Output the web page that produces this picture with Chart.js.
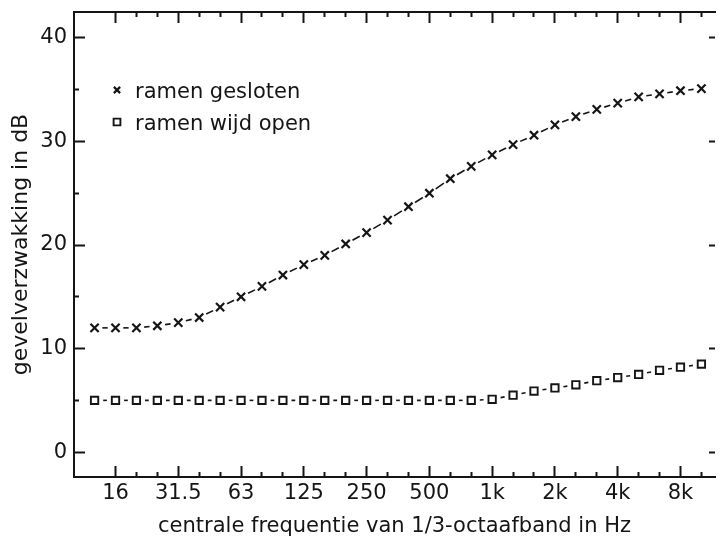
<!DOCTYPE html>
<html>
<head>
<meta charset="utf-8">
<script src="https://cdn.jsdelivr.net/npm/chart.js@4/dist/chart.umd.min.js"></script>
<style>
  html, body { margin: 0; padding: 0; background: #fff; overflow: hidden; }
</style>
</head>
<body>
<canvas id="chart" width="723" height="541"></canvas>
<script>
// 1/3-octave band centre frequencies (x positions are the band index)
const bands = ['12.5', '16', '20', '25', '31.5', '40', '50', '63', '80', '100',
  '125', '160', '200', '250', '315', '400', '500', '630', '800', '1k',
  '1.25k', '1.6k', '2k', '2.5k', '3.15k', '4k', '5k', '6.3k', '8k', '10k'];
const tickLabels = ['16', '31.5', '63', '125', '250', '500', '1k', '2k', '4k', '8k'];
const seriesNames = ['ramen gesloten', 'ramen wijd open'];

// gevelverzwakking in dB
const closedWindows = [12.0, 12.0, 12.0, 12.2, 12.5, 13.0, 14.0, 15.0, 16.0, 17.1,
  18.1, 19.0, 20.1, 21.2, 22.4, 23.7, 25.0, 26.4, 27.6, 28.7,
  29.7, 30.6, 31.6, 32.4, 33.1, 33.7, 34.3, 34.6, 34.9, 35.1];
const openWindows = [5.0, 5.0, 5.0, 5.0, 5.0, 5.0, 5.0, 5.0, 5.0, 5.0,
  5.0, 5.0, 5.0, 5.0, 5.0, 5.0, 5.0, 5.0, 5.0, 5.1,
  5.5, 5.9, 6.2, 6.5, 6.9, 7.2, 7.5, 7.9, 8.2, 8.5];

const ink = '#151515';
Chart.defaults.font.family = 'DejaVu Sans';
Chart.defaults.font.size = 21;
Chart.defaults.color = ink;

const toPoints = values => values.map((v, i) => ({ x: i, y: v }));

// one short dash in the middle of every segment, leaving room for the markers
const midDash = gap => ctx => {
  const len = Math.hypot(ctx.p1.x - ctx.p0.x, ctx.p1.y - ctx.p0.y);
  const d = Math.max(len - 2 * gap, 0.5);
  return [0, gap, d, len - gap - d];
};

// tick marks point inward; minor ones are shortened with a dash
const innerTick = (isMajor, fromBorder) => ctx =>
  isMajor(ctx.tick.value) ? [] : (fromBorder ? [6, 20] : [0, 6, 6, 20]);
const majorX = v => tickLabels.includes(bands[v]);
const majorY = v => v % 10 === 0;

// fixed axis sizes, no extra label padding around the plot
const fixSize = (prop, size) => s => {
  s[prop] = size;
  s.paddingTop = s.paddingBottom = s.paddingLeft = s.paddingRight = 0;
};

const insideLegend = {
  id: 'insideLegend',
  afterDatasetsDraw(chart) {
    const { ctx, chartArea } = chart;
    ctx.save();
    chart.data.datasets.forEach((ds, k) => {
      const x = chartArea.left + 43;
      const y = chartArea.top + 78 + k * 32;
      ctx.strokeStyle = ink;
      ctx.fillStyle = '#fff';
      ctx.lineWidth = ds.pointBorderWidth;
      Chart.helpers.drawPoint(ctx, {
        pointStyle: ds.pointStyle,
        radius: ds.pointStyle === 'rect' ? 4.8 : 4.4,
        borderWidth: ds.pointBorderWidth
      }, x, y);
      ctx.fillStyle = ink;
      ctx.font = '21px "DejaVu Sans"';
      ctx.textBaseline = 'alphabetic';
      ctx.fillText(ds.label, chartArea.left + 61, y + 8);
    });
    ctx.restore();
  }
};

new Chart(document.getElementById('chart'), {
  type: 'line',
  data: {
    datasets: [{
      label: seriesNames[0],
      data: toPoints(closedWindows),
      borderColor: ink,
      borderWidth: 1.6,
      pointStyle: 'crossRot',
      pointRadius: 5.8,
      pointBorderWidth: 2.2,
      pointBorderColor: ink,
      segment: { borderDash: midDash(7.8) }
    }, {
      label: seriesNames[1],
      data: toPoints(openWindows),
      borderColor: ink,
      borderWidth: 1.6,
      pointStyle: 'rect',
      pointRadius: 5.2,
      pointBorderWidth: 1.9,
      pointBorderColor: ink,
      pointBackgroundColor: '#fff',
      segment: { borderDash: midDash(8.6) }
    }]
  },
  options: {
    responsive: false,
    animation: false,
    layout: { padding: 0 },
    plugins: {
      legend: { display: false },
      tooltip: { enabled: false }
    },
    scales: {
      x: {
        type: 'linear',
        position: 'bottom',
        min: -0.983,
        max: 29.65,
        afterBuildTicks: s => { s.ticks = s.ticks.filter(t => t.value >= 1); },
        afterFit: fixSize('height', 64),
        border: { color: ink, width: 2 },
        grid: {
          drawOnChartArea: false,
          tickLength: -11,
          tickWidth: 2,
          tickColor: ink,
          tickBorderDash: innerTick(majorX, true)
        },
        ticks: {
          stepSize: 1,
          autoSkip: false,
          maxRotation: 0,
          includeBounds: false,
          padding: 15,
          callback: v => (majorX(v) ? bands[v] : '')
        },
        title: {
          display: true,
          text: 'centrale frequentie van 1/3-octaafband in Hz',
          padding: { top: 0, bottom: 2 }
        }
      },
      xTop: {
        type: 'linear',
        position: 'top',
        min: -0.983,
        max: 29.65,
        afterBuildTicks: s => { s.ticks = s.ticks.filter(t => t.value >= 1); },
        afterFit: fixSize('height', 12),
        border: { color: ink, width: 2 },
        grid: {
          drawOnChartArea: false,
          tickLength: -11,
          tickWidth: 2,
          tickColor: ink,
          tickBorderDash: innerTick(majorX, false)
        },
        ticks: { display: false, stepSize: 1, autoSkip: false, includeBounds: false }
      },
      y: {
        position: 'left',
        min: -2.4,
        max: 42.5,
        afterFit: fixSize('width', 74),
        border: { color: ink, width: 2 },
        grid: {
          drawOnChartArea: false,
          tickLength: -11,
          tickWidth: 2,
          tickColor: ink,
          tickBorderDash: innerTick(majorY, false)
        },
        ticks: {
          stepSize: 5,
          autoSkip: false,
          includeBounds: false,
          padding: 18,
          callback: v => (majorY(v) ? v : '')
        },
        title: {
          display: true,
          text: 'gevelverzwakking in dB',
          font: { size: 22 },
          padding: { top: 8, bottom: 0 }
        }
      },
      yRight: {
        position: 'right',
        min: -2.4,
        max: 42.5,
        afterFit: fixSize('width', 0),
        border: { display: false },
        grid: {
          drawOnChartArea: false,
          tickLength: -6,
          tickWidth: 2,
          tickColor: ctx => (majorY(ctx.tick.value) ? ink : 'rgba(0,0,0,0)')
        },
        ticks: { display: false, stepSize: 5, autoSkip: false, includeBounds: false }
      }
    }
  },
  plugins: [insideLegend]
});
</script>
</body>
</html>
